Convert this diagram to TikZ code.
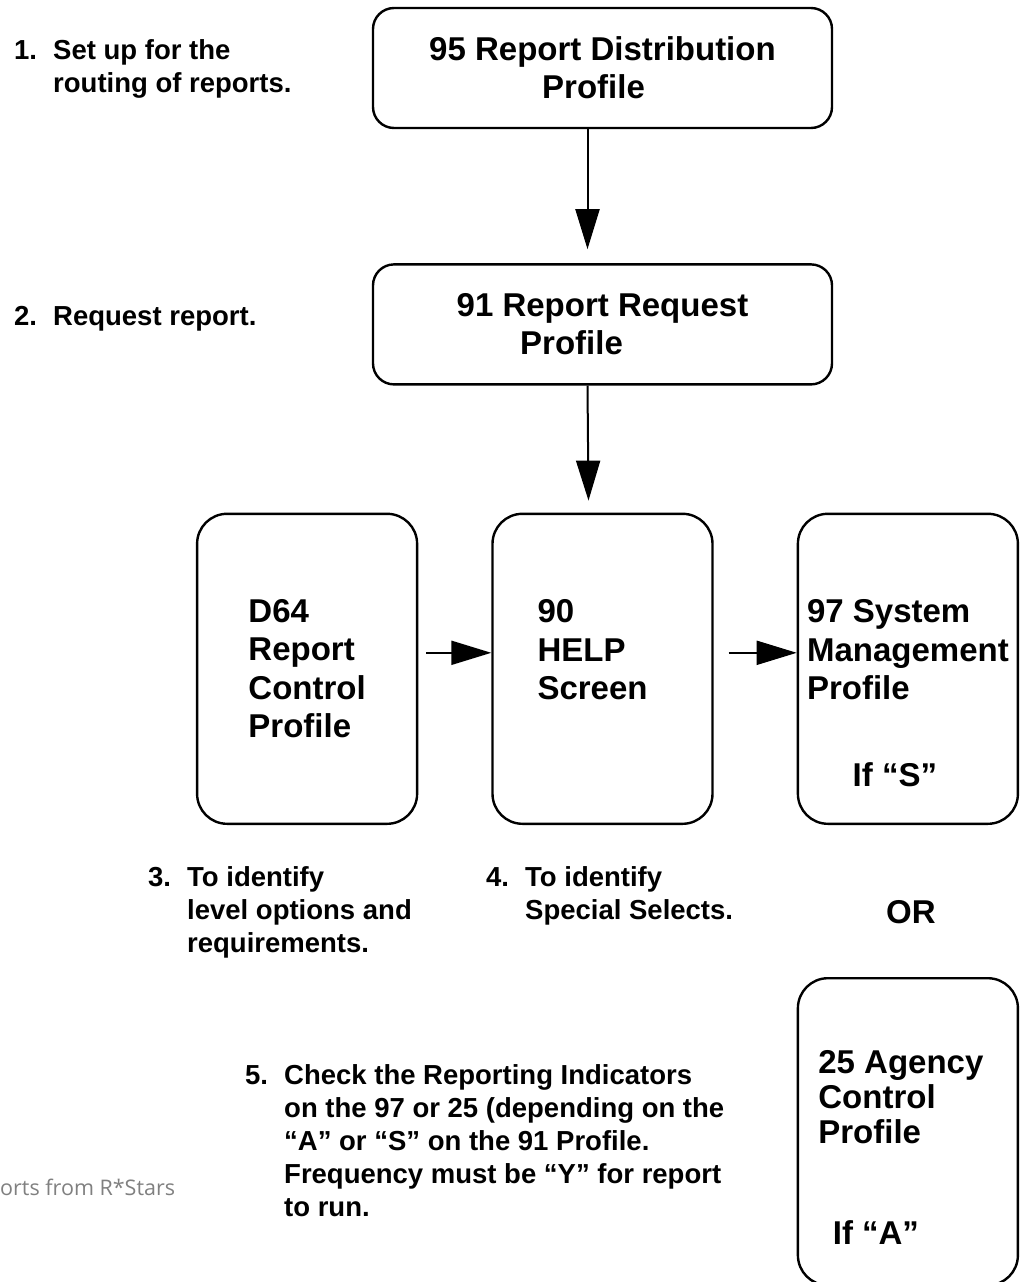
\documentclass[tikz,border=0pt]{standalone}
\usepackage{fontspec}
\setmainfont{Liberation Sans}
\newfontfamily\footfont{Open Sans}
\usetikzlibrary{shapes.geometric, arrows.meta, positioning}
\tikzstyle{profile} = [
	rectangle, 
	rounded corners=21pt, 
	minimum width=459pt,
	minimum height=120pt, 
	align=center, 
	text centered, 
	draw=black, 
	line width=2.4pt,
	font=\fontsize{33}{38}\selectfont\bfseries]
\tikzstyle{tallbox} = [
	rectangle, 
	rounded corners=30pt, 
	minimum width=220pt,
	minimum height=310pt, 
	align=left, 
	draw=black, 
	line width=2.4pt,
	font=\fontsize{33}{38.5}\selectfont\bfseries]
\tikzstyle{boxtext} = [
	inner sep=0pt, 
	font=\fontsize{33}{38}\selectfont\bfseries]
\tikzstyle{annot} = [
	anchor=north west, 
	inner sep=0pt, 
	align=left, 
	font=\fontsize{27.5}{33}\selectfont\bfseries]
\tikzstyle{slidefoot} = [
	anchor=west, 
	inner sep=0pt, 
	text=black!50, 
	font=\footfont\fontsize{21.5}{26}\selectfont]
\tikzstyle{arrow} = [-{Triangle[length=40pt,width=24pt]}, line width=2pt]
\newcommand{\itemnum}[1]{\makebox[39pt][l]{#1}}
\newcommand{\itemgap}{\hspace*{39pt}}

\begin{document}
\begin{tikzpicture}[x=1pt, y=-1pt]
\useasboundingbox (0,0) rectangle (1020,1282);

% --- Nodes ---
\node (distprof) [profile] at (602.5,68) {95 Report Distribution\\Profile\hspace*{18pt}};
\node (reqprof) [profile, below=134pt of distprof] {91 Report Request\\Profile\hspace*{62pt}};

\node (helpscr) [tallbox, below=127pt of reqprof] {90\\HELP\\Screen\\\hspace*{130pt}};
\node (ctrlprof) [tallbox, left=73pt of helpscr] {D64\\Report\\Control\\Profile};
\node (sysprof) [tallbox, right=83pt of helpscr] {97 System\\Management\\Profile\\~};
\node (ifS) [boxtext, above=38pt of sysprof.south, xshift=-13pt] {If “S”};

\node (orword) [boxtext, below=75pt of sysprof, xshift=3pt] {OR};

\node (agencyprof) [tallbox, minimum height=307pt, below=152pt of sysprof,
	font=\fontsize{33}{35}\selectfont\bfseries] {25 Agency\hspace*{14pt}\\Control\\Profile\\~\\~};
\node (ifA) [boxtext, above=42pt of agencyprof.south, xshift=-32pt] {If “A”};

\node (step1) [annot] at (14,39) {\itemnum{1.}Set up for the\\\itemgap routing of reports.};
\node (step2) [annot] at (14,306) {\itemnum{2.}Request report.};
\node (step3) [annot] at (148,866) {\itemnum{3.}To identify\\\itemgap level options and\\\itemgap requirements.};
\node (step4) [annot] at (486,866) {\itemnum{4.}To identify\\\itemgap Special Selects.};
\node (step5) [annot] at (245,1064) {\itemnum{5.}Check the Reporting Indicators\\\itemgap on the 97 or 25 (depending on the\\\itemgap “A” or “S” on the 91 Profile.\\\itemgap Frequency must be “Y” for report\\\itemgap to run.};

\node (footer) [slidefoot] at (0,1187) {orts from R*Stars};

% --- Arrows ---
\draw [arrow] ([xshift=-15pt]distprof.south) -- ([xshift=-15pt, yshift=14pt]reqprof.north);
\draw [arrow] ([xshift=-15pt]reqprof.south) -- ([xshift=-14pt, yshift=12pt]helpscr.north);

\draw [arrow] ([xshift=8pt, yshift=16pt]ctrlprof.east) -- ([yshift=16pt]helpscr.west);
\draw [arrow] ([xshift=15pt, yshift=16pt]helpscr.east) -- ([yshift=16pt]sysprof.west);

\end{tikzpicture}
\end{document}
